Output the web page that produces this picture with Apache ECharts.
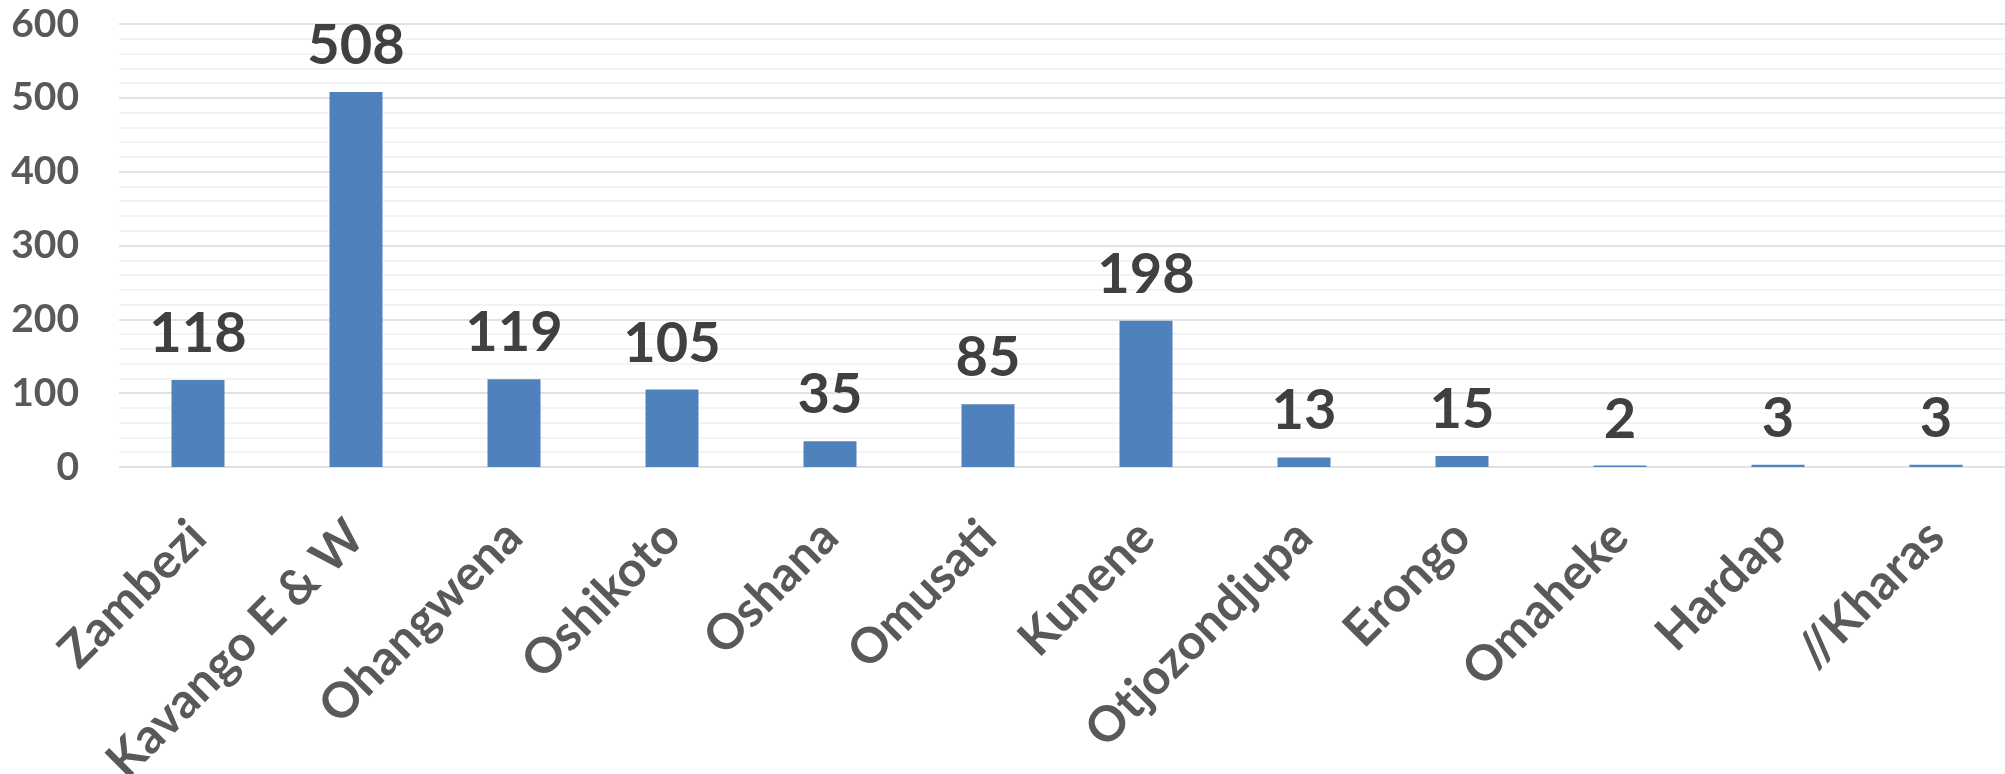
<!DOCTYPE html>
<html>
<head>
<meta charset="utf-8">
<script src="https://cdn.jsdelivr.net/npm/echarts@6/dist/echarts.min.js"></script>
<style>
  html, body { margin: 0; padding: 0; background: #fff; }
  #chart { width: 2005px; height: 774px; }
</style>
</head>
<body>
<div id="chart"></div>
<script>
const regions = ['Zambezi', 'Kavango E & W', 'Ohangwena', 'Oshikoto', 'Oshana', 'Omusati',
  'Kunene', 'Otjozondjupa', 'Erongo', 'Omaheke', 'Hardap', '//Kharas']
const counts = [118, 508, 119, 105, 35, 85, 198, 13, 15, 2, 3, 3]
const yTicks = [0, 100, 200, 300, 400, 500, 600]

const fontFamily = 'Lato, "Open Sans", sans-serif'

const chart = echarts.init(document.getElementById('chart'))
chart.setOption({
  animation: false,
  grid: { left: 119, right: -10, top: 24, bottom: 307, outerBoundsMode: 'none' },
  xAxis: {
    type: 'category',
    data: regions,
    axisLine: { show: false },
    axisTick: { show: false },
    axisLabel: {
      rotate: 45,
      margin: 62,
      interval: 0,
      fontFamily,
      fontWeight: 'bold',
      fontSize: 49,
      color: '#595959',
    },
  },
  yAxis: {
    type: 'value',
    min: yTicks[0],
    max: yTicks[yTicks.length - 1],
    interval: 100,
    axisLine: { show: false },
    axisTick: { show: false },
    minorTick: { show: false, splitNumber: 5 },
    axisLabel: {
      margin: 40,
      fontFamily,
      fontWeight: 'bold',
      fontSize: 39,
      color: '#595959',
    },
    splitLine: { lineStyle: { color: '#d9d9d9', width: 1.5 } },
    minorSplitLine: { show: true, lineStyle: { color: '#efefef', width: 1.5 } },
  },
  series: [{
    type: 'bar',
    data: counts,
    barWidth: 53,
    itemStyle: { color: '#4f81bd' },
    label: {
      show: true,
      position: 'top',
      distance: 18,
      fontFamily,
      fontWeight: 'bold',
      fontSize: 56,
      color: '#404040',
    },
  }],
})
</script>
</body>
</html>
